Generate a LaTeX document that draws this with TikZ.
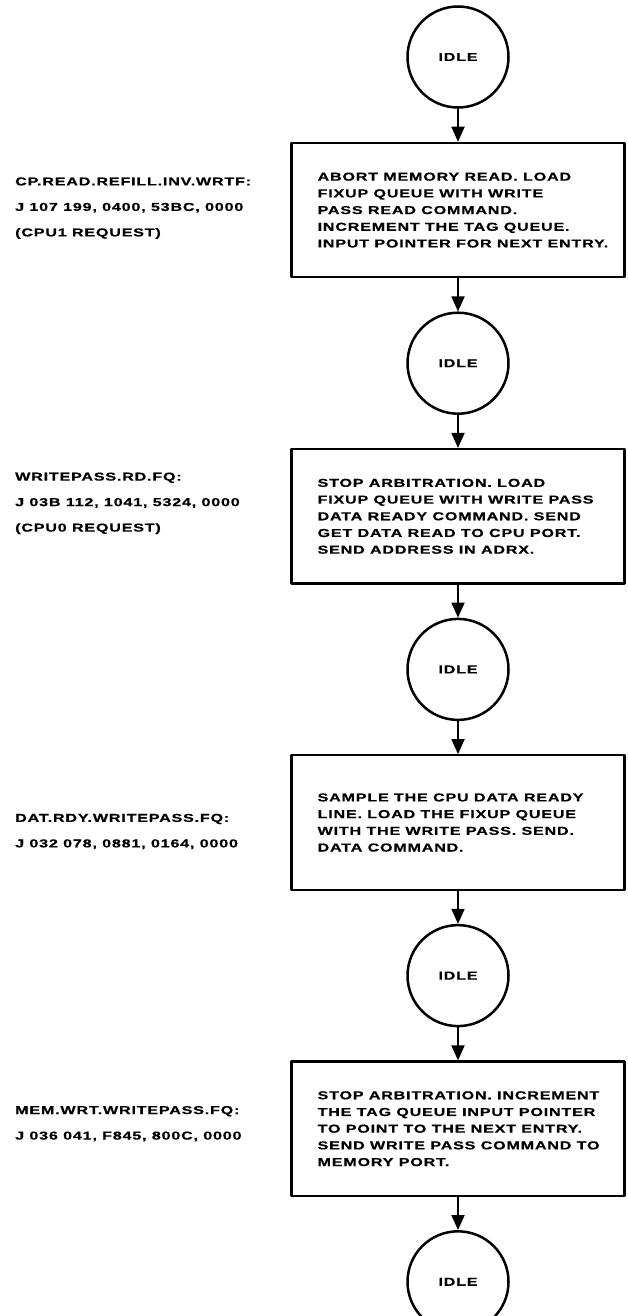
\documentclass[tikz,border=0pt]{standalone}
\usepackage{fontspec}
\setmainfont{Liberation Sans}[FakeStretch=1.4,LetterSpace=7,BoldFeatures={FakeBold=0.6}]
\usetikzlibrary{positioning,arrows.meta}

\begin{document}
\begin{tikzpicture}[x=1pt,y=1pt,line cap=round,line join=round,node distance=33pt,
  idle/.style={circle,draw,line width=2.5pt,minimum size=101pt,inner sep=0pt,font=\fontsize{11.5}{13}\selectfont\bfseries},
  actbox/.style={draw,line width=2.2pt,minimum width=333pt,minimum height=134.5pt,inner sep=0pt},
  acttext/.style={anchor=west,align=left,inner sep=0pt,font=\fontsize{11.5}{16.7}\selectfont\bfseries},
  lbl/.style={anchor=west,align=left,inner sep=0pt,font=\fontsize{11.5}{25.5}\selectfont\bfseries},
  flow/.style={line width=1.8pt,-{Triangle[width=13pt,length=15pt]}}]
  \useasboundingbox (0,0) rectangle (627,-1316);
  \coordinate (col) at (15,0);
  % states down the right
  \node[idle] (idle1) at (458,-57) {IDLE};
  \node[actbox,below=of idle1] (act1) {};
  \node[idle,below=of act1] (idle2) {IDLE};
  \node[actbox,below=of idle2] (act2) {};
  \node[idle,below=of act2] (idle3) {IDLE};
  \node[actbox,below=of idle3] (act3) {};
  \node[idle,below=of act3] (idle4) {IDLE};
  \node[actbox,below=of idle4] (act4) {};
  \node[idle,below=of act4] (idle5) {IDLE};
  \foreach \a/\b in {idle1/act1,act1/idle2,idle2/act2,act2/idle3,idle3/act3,act3/idle4,idle4/act4,act4/idle5}
    \draw[flow] (\a) -- (\b);
  % box texts
  \node[acttext] (txt1) at ([xshift=27pt]act1.west) {ABORT MEMORY READ. LOAD\\FIXUP QUEUE WITH WRITE\\PASS READ COMMAND.\\INCREMENT THE TAG QUEUE.\\INPUT POINTER FOR NEXT ENTRY.};
  \node[acttext] (txt2) at ([xshift=27pt]act2.west) {STOP ARBITRATION. LOAD\\FIXUP QUEUE WITH WRITE PASS\\DATA READY COMMAND. SEND\\GET DATA READ TO CPU PORT.\\SEND ADDRESS IN ADRX.};
  \node[acttext] (txt3) at ([xshift=27pt]act3.west) {SAMPLE THE CPU DATA READY\\LINE. LOAD THE FIXUP QUEUE\\WITH THE WRITE PASS. SEND.\\DATA COMMAND.};
  \node[acttext] (txt4) at ([xshift=27pt]act4.west) {STOP ARBITRATION. INCREMENT\\THE TAG QUEUE INPUT POINTER\\TO POINT TO THE NEXT ENTRY.\\SEND WRITE PASS COMMAND TO\\MEMORY PORT.};
  % microcode labels on the left
  \node[lbl,yshift=2pt] (lbl1) at (col |- act1) {CP.READ.REFILL.INV.WRTF:\\J 107 199, 0400, 53BC, 0000\\(CPU1 REQUEST)};
  \node[lbl,yshift=13pt] (lbl2) at (col |- act2) {WRITEPASS.RD.FQ:\\J 03B 112, 1041, 5324, 0000\\(CPU0 REQUEST)};
  \node[lbl,yshift=-9pt] (lbl3) at (col |- act3) {DAT.RDY.WRITEPASS.FQ:\\J 032 078, 0881, 0164, 0000};
  \node[lbl,yshift=5pt] (lbl4) at (col |- act4) {MEM.WRT.WRITEPASS.FQ:\\J 036 041, F845, 800C, 0000};
\end{tikzpicture}
\end{document}
